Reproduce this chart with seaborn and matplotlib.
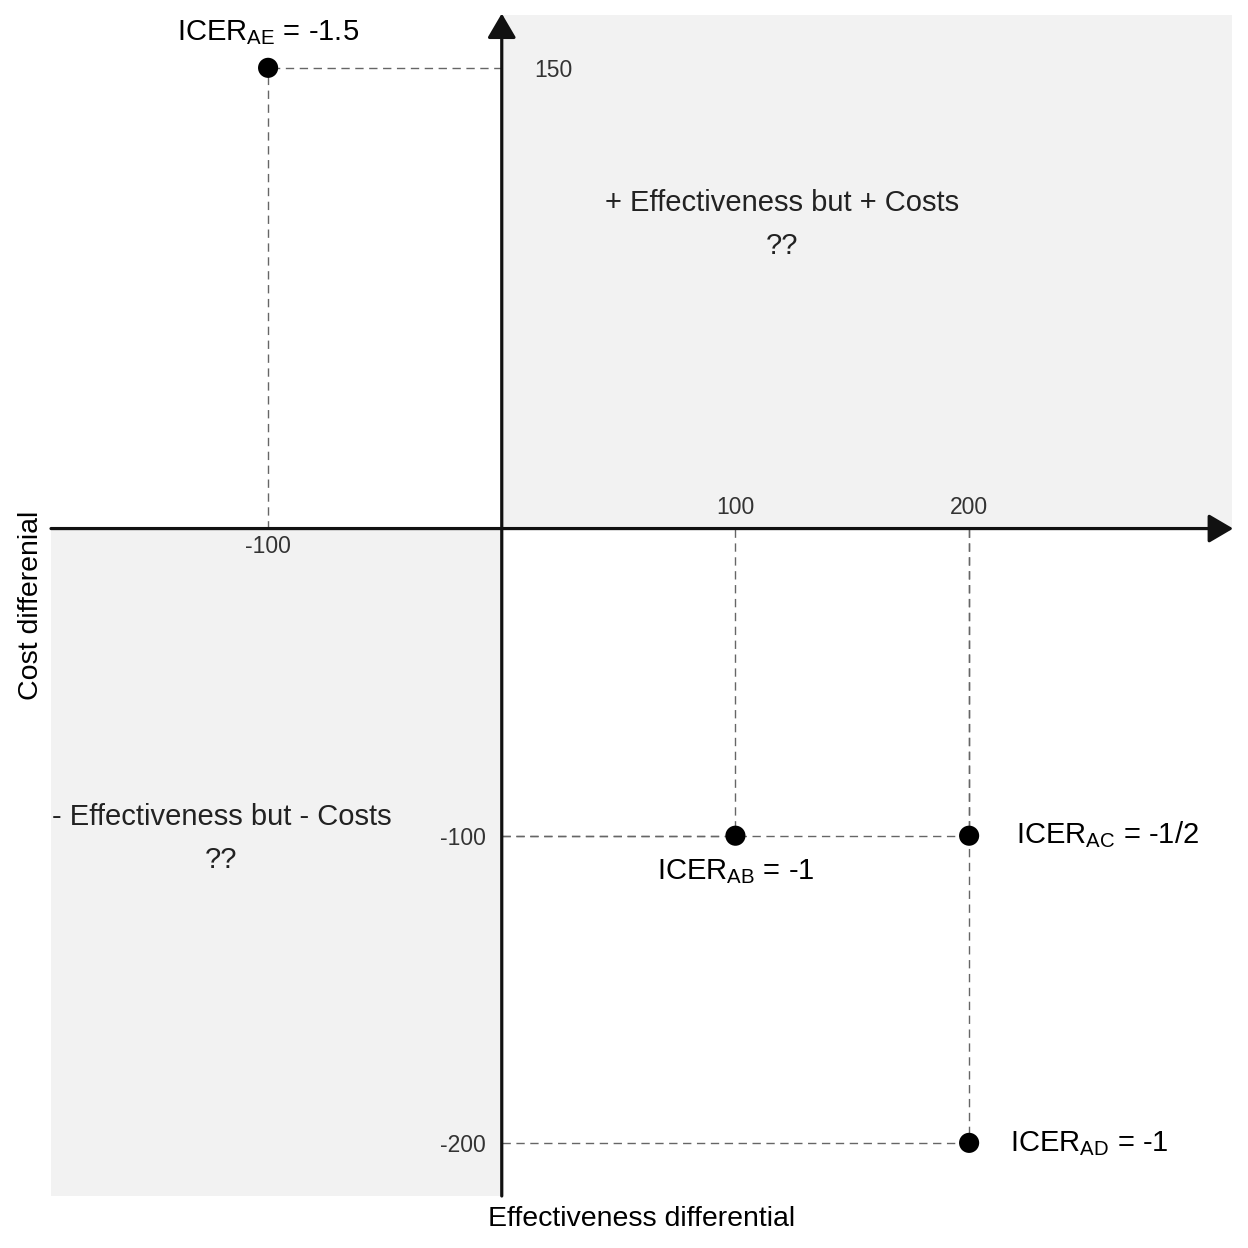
import matplotlib
matplotlib.use('Agg')
import matplotlib.pyplot as plt
import seaborn as sns
import pandas as pd

# Data: incremental effectiveness / cost of each strategy vs A
strategy = ['AE', 'AB', 'AC', 'AD']
eff_diff = [-100, 100, 200, 200]
cost_diff = [150, -100, -100, -200]
icer_text = ['-1.5', '-1', '-1/2', '-1']

x_ticks_up = [100, 200]
x_ticks_down = [-100]
y_ticks_right = [150]
y_ticks_left = [-100, -200]

quad_text = ['+ Effectiveness but + Costs\n??', '- Effectiveness but - Costs\n??']
quad_pos = [(120, 99), (-120, -101)]

df = pd.DataFrame({'eff': eff_diff, 'cost': cost_diff, 'strategy': strategy, 'icer': icer_text})

sns.set_style('white')
plt.rcParams['font.family'] = ['Liberation Sans', 'DejaVu Sans']
plt.rcParams['mathtext.fontset'] = 'custom'
plt.rcParams['mathtext.rm'] = 'Liberation Sans'
plt.rcParams['mathtext.it'] = 'Liberation Sans:italic'
plt.rcParams['mathtext.bf'] = 'Liberation Sans:bold'

xmin, xmax = -192.9, 312.5
ymin, ymax = -217.3, 167.2

fig = plt.figure(figsize=(12.48, 12.48), dpi=100)
ax = fig.add_axes([51 / 1248, 52 / 1248, 1181 / 1248, 1181 / 1248])
ax.set_xlim(xmin, xmax)
ax.set_ylim(ymin, ymax)

# shaded quadrants
ax.fill_between([0, xmax], 0, ymax, color='#f2f2f2', lw=0, zorder=0)
ax.fill_between([xmin, 0], ymin, 0, color='#f2f2f2', lw=0, zorder=0)

# dashed guides from the points to the axes
for x, y in zip(eff_diff, cost_diff):
    ax.plot([x, x], [0, y], color='#666666', lw=1.0, dashes=(6, 4), zorder=1)
    ax.plot([0, x], [y, y], color='#666666', lw=1.0, dashes=(6, 4), zorder=1)

# axes with arrows
arrow = dict(arrowstyle='-|>,head_length=1.5,head_width=0.88', mutation_scale=10,
             lw=2.3, color='#111111', shrinkA=0, shrinkB=0)
ax.annotate('', xy=(xmax + 0.5, 0), xytext=(xmin, 0), arrowprops=arrow, annotation_clip=False, zorder=3)
ax.annotate('', xy=(0, ymax + 0.5), xytext=(0, ymin), arrowprops=arrow, annotation_clip=False, zorder=3)

sns.scatterplot(data=df, x='eff', y='cost', color='black', s=210, edgecolor='none', ax=ax, zorder=4)

# ICER labels
lab = {s: r'ICER$_{\mathrm{%s}}$ = %s' % (s, v) for s, v in zip(strategy, icer_text)}
fs = 21
ax.text(-100, 159.1, lab['AE'], ha='center', va='baseline', fontsize=fs, color='black')
ax.text(100, -114.1, lab['AB'], ha='center', va='baseline', fontsize=fs, color='black')
ax.text(220.1, -102.3, lab['AC'], ha='left', va='baseline', fontsize=fs, color='black')
ax.text(217.5, -202.8, lab['AD'], ha='left', va='baseline', fontsize=fs, color='black')

# quadrant notes
for t, (qx, qy) in zip(quad_text, quad_pos):
    ax.text(qx, qy, t, ha='center', va='center', fontsize=fs, color='#222222',
            linespacing=1.7, multialignment='center')

# tick labels next to the axes
tick_kw = dict(fontsize=16.5, color='#333333')
for v in x_ticks_up:
    ax.text(v, 3.2, str(v), ha='center', va='bottom', **tick_kw)
for v in x_ticks_down:
    ax.text(v, -2.0, str(v), ha='center', va='top', **tick_kw)
for v in y_ticks_right:
    ax.text(13.8, v - 0.8, str(v), ha='left', va='center', **tick_kw)
for v in y_ticks_left:
    ax.text(-6.7, v - 0.8, str(v), ha='right', va='center', **tick_kw)

ax.set_xticks([])
ax.set_yticks([])
for sp in ax.spines.values():
    sp.set_visible(False)
ax.set_xlabel('Effectiveness differential', fontsize=20.5, labelpad=7, color='black')
ax.set_ylabel('Cost differenial', fontsize=20.5, labelpad=5, color='black')

fig.savefig('out.png', dpi=100)
